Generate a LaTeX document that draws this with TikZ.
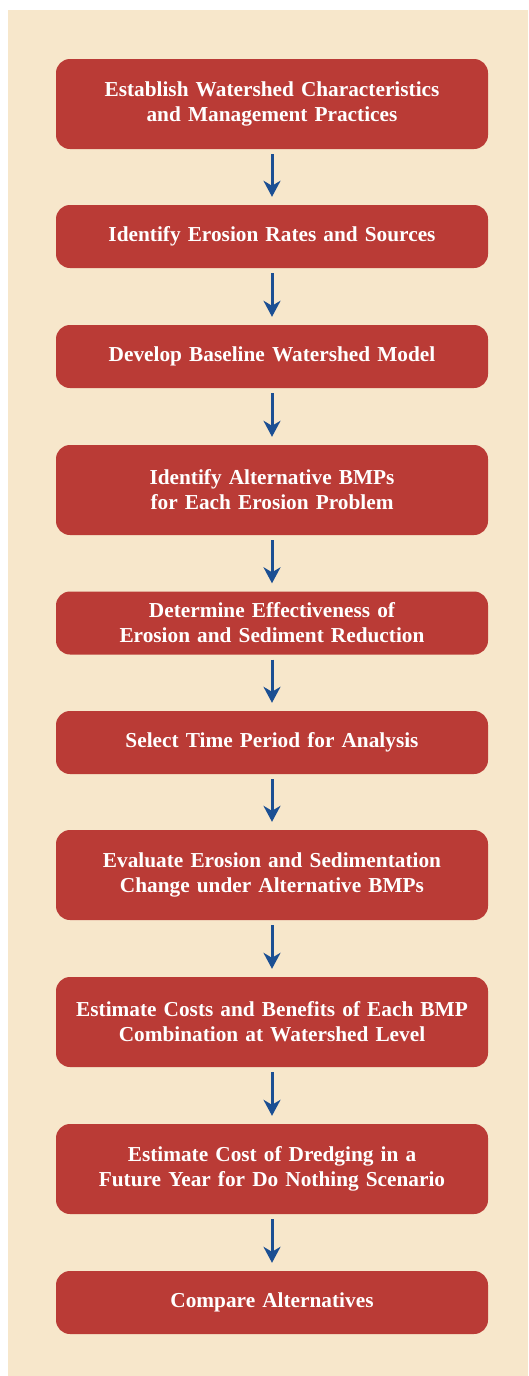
\documentclass[tikz,border=0pt]{standalone}
\usepackage{fontspec}
\setmainfont{Liberation Serif}
\usetikzlibrary{arrows.meta}
\definecolor{panelbg}{HTML}{F7E7CB}
\definecolor{boxred}{HTML}{BA3B36}
\definecolor{flowblue}{HTML}{1B4F93}
\tikzset{
  stepbox/.style={fill=boxred, draw=none, rounded corners=14pt,
    minimum width=432pt, text width=424pt, align=center,
    text=white, font=\fontsize{21.3}{25}\selectfont\bfseries, inner sep=0pt},
  tall/.style={minimum height=90pt},
  short/.style={minimum height=63pt},
  flow/.style={draw=flowblue, line width=3pt,
    -{Stealth[length=16pt,width=17pt,inset=5pt]}, shorten <=5pt, shorten >=8pt}
}
\begin{document}
\begin{tikzpicture}[x=1pt,y=-1pt]
  \useasboundingbox (0,0) rectangle (528,1376);
  \fill[white] (0,0) rectangle (528,1376);
  \fill[panelbg] (8,10) rectangle (528,1376);

  \node[stepbox,tall]  (s1)  at (272,104)   {Establish Watershed Characteristics\\and Management Practices};
  \node[stepbox,short] (s2)  at (272,236.5) {Identify Erosion Rates and Sources};
  \node[stepbox,short] (s3)  at (272,356.5) {Develop Baseline Watershed Model};
  \node[stepbox,tall]  (s4)  at (272,490)   {Identify Alternative BMPs\\for Each Erosion Problem};
  \node[stepbox,short] (s5)  at (272,623)   {Determine Effectiveness of\\Erosion and Sediment Reduction};
  \node[stepbox,short] (s6)  at (272,742.5) {Select Time Period for Analysis};
  \node[stepbox,tall]  (s7)  at (272,875)   {Evaluate Erosion and Sedimentation\\Change under Alternative BMPs};
  \node[stepbox,tall]  (s8)  at (272,1022)  {Estimate Costs and Benefits of Each BMP\\Combination at Watershed Level};
  \node[stepbox,tall]  (s9)  at (272,1169)  {Estimate Cost of Dredging in a\\Future Year for Do Nothing Scenario};
  \node[stepbox,short] (s10) at (272,1302.5){Compare Alternatives};

  \foreach \a/\b in {s1/s2,s2/s3,s3/s4,s4/s5,s5/s6,s6/s7,s7/s8,s8/s9,s9/s10}
    \draw[flow] (\a.south) -- (\b.north);
\end{tikzpicture}
\end{document}
